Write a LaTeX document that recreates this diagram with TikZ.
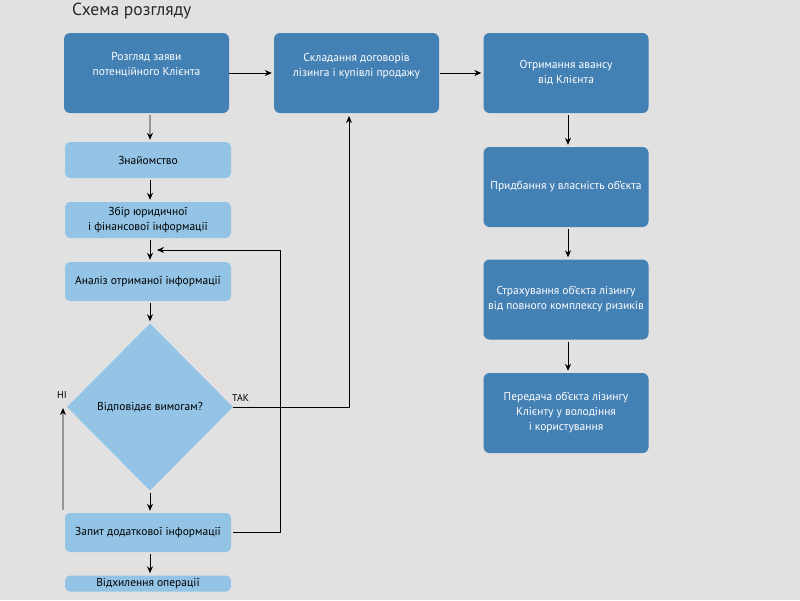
\documentclass[tikz,border=0pt]{standalone}
\usepackage{fontspec}
\setmainfont{PT Sans}
\usetikzlibrary{arrows.meta,shapes.geometric,calc}
\definecolor{bg}{RGB}{225,225,225}
\definecolor{darkbox}{RGB}{67,128,180}
\definecolor{lightbox}{RGB}{147,196,230}
\definecolor{grayline}{RGB}{150,150,150}
\definecolor{titlecol}{RGB}{40,40,40}
\begin{document}
\begin{tikzpicture}[x=1pt,y=-1pt,
  darkstep/.style={rectangle,rounded corners=6pt,fill=darkbox,text=white,
    minimum width=165pt,minimum height=80pt,inner sep=0pt,align=center,
    font=\fontsize{11.5}{15}\selectfont},
  lightstep/.style={rectangle,rounded corners=5pt,fill=lightbox,text=black,
    minimum width=166pt,inner sep=0pt,align=center,
    font=\fontsize{11.5}{15}\selectfont},
  decide/.style={diamond,fill=lightbox,text=black,inner sep=0pt,
    minimum width=166pt,minimum height=167pt,aspect=1,
    font=\fontsize{11.5}{15}\selectfont},
  conn/.style={draw=black,line width=0.8pt,-{Stealth[length=7pt,width=6pt]}},
  plainconn/.style={draw=black,line width=0.8pt},
  grayconn/.style={draw=grayline,line width=1.2pt,-{Stealth[length=7pt,width=6pt,color=black]}},
  lbl/.style={font=\fontsize{10}{12}\selectfont,text=black,inner sep=0pt}
]
\fill[bg] (0,0) rectangle (800,600);
\useasboundingbox (0,0) rectangle (800,600);

\node[font=\fontsize{17.5}{20}\selectfont,text=titlecol,anchor=west,inner sep=0pt] (title) at (72,11) {Схема розгляду};

% left column
\node[darkstep] (A) at (146.5,73) {Розгляд заяви\\потенційного Клієнта\\[4pt]\mbox{}};
\node[lightstep,minimum height=36pt] (Zn) at (148,160) {Знайомство};
\node[lightstep,minimum height=36pt] (Zb) at (148,220) {Збір юридичної\\і фінансової інформації};
\node[lightstep,minimum height=39pt] (An) at (148,281.5) {Аналіз отриманої інформації};
\node[decide] (Dec) at (150,407) {Відповідає вимогам?};
\node[lightstep,minimum height=39pt] (Zp) at (148,532.5) {Запит додаткової інформації};
\node[lightstep,minimum height=16pt] (Vd) at (148,583.5) {Відхилення операції};

% middle and right columns
\node[darkstep] (B) at (356.5,73) {Складання договорів\\лізинга і купівлі продажу\\[2pt]\mbox{}};
\node[darkstep] (C) at (566,73) {Отримання авансу\\від Клієнта};
\node[darkstep] (D) at (566,187) {Придбання у власність об’єкта};
\node[darkstep] (E) at (566,299.5) {Страхування об’єкта лізингу\\від повного комплексу ризиків};
\node[darkstep] (F) at (566,413) {Передача об’єкта лізингу\\Клієнту у володіння\\і користування};

% coordinates
\coordinate (fbtip) at (157,250);
\coordinate (fbcorner) at (280,250);
\coordinate (Bin) at (349,116);
\coordinate (noStart) at (63,510);
\coordinate (noEnd) at (63,408);

% connectors
\draw[grayconn] ($(A.south)+(3.5,2)$) -- ($(Zn.north)+(2,-2)$);
\draw[conn] ($(Zn.south)+(2,2)$) -- ($(Zb.north)+(2,-2)$);
\draw[conn] ($(Zb.south)+(2,2)$) -- ($(An.north)+(2,-2)$);
\draw[conn] ($(An.south)+(2,2)$) -- ($(Dec.north)+(0,-2)$);
\draw[conn] ($(Dec.south)+(0,2)$) -- ($(Zp.north)+(2,-2)$);
\draw[conn] ($(Zp.south)+(2,2)$) -- ($(Vd.north)+(2,-2)$);
\draw[plainconn] ($(Zp.east)+(2,0)$) -| (fbcorner);
\draw[conn] (fbcorner) -- (fbtip);
\draw[conn] (Dec.east) -| (Bin);
\draw[grayconn] (noStart) -- (noEnd);
\draw[conn] (A.east) -- ($(B.west)+(-2,0)$);
\draw[conn] ($(B.east)+(1,0)$) -- ($(C.west)+(-2,0)$);
\draw[conn] ($(C.south)+(2,2)$) -- ($(D.north)+(2,-2)$);
\draw[conn] ($(D.south)+(2,2)$) -- ($(E.north)+(2,-2)$);
\draw[conn] ($(E.south)+(2,2)$) -- ($(F.north)+(2,-2)$);

\node[lbl,anchor=south west] (tak) at (232,402) {ТАК};
\node[lbl] (ni) at (62,395) {НІ};
\end{tikzpicture}
\end{document}
